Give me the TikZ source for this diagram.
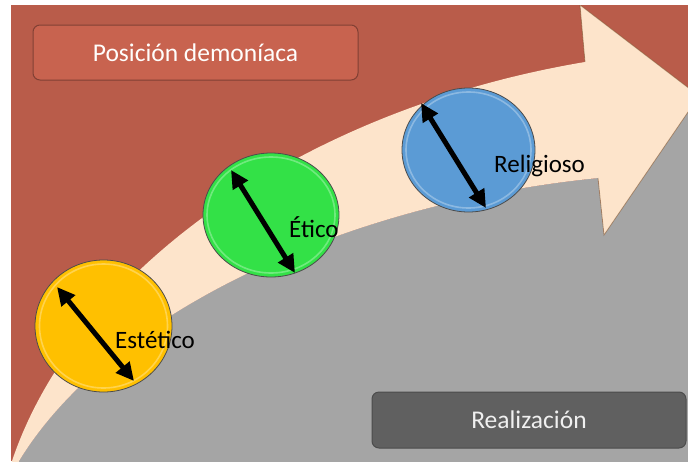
\documentclass[tikz,border=0pt]{standalone}
\usepackage{fontspec}
\setmainfont{Carlito}
\usetikzlibrary{shapes.geometric,arrows.meta}
\definecolor{bgred}{HTML}{B95C4A}
\definecolor{peach}{HTML}{FDE4CB}
\definecolor{bggray}{HTML}{A5A5A5}
\definecolor{cyellow}{HTML}{FFC000}
\definecolor{cgreen}{HTML}{33E147}
\definecolor{cblue}{HTML}{5B9BD5}
\definecolor{boxred}{HTML}{C8634F}
\definecolor{boxgray}{HTML}{606060}
\tikzset{
  stage/.style={ellipse, inner sep=0pt, draw=black!70, line width=0.8pt},
  gloss/.style={draw=white, opacity=0.3, line width=1.6pt},
  dbl/.style={line width=5pt, {Triangle[length=18pt,width=17pt]}-{Triangle[length=18pt,width=17pt]}},
  lbl/.style={font=\fontsize{25}{28}\selectfont, text=black, inner sep=0pt, anchor=base west},
  banner/.style={rounded corners=7pt, inner sep=0pt, line width=1pt, font=\fontsize{25.5}{28}\selectfont}
}
\begin{document}
\begin{tikzpicture}[x=1pt,y=-1pt]
\useasboundingbox (0,0) rectangle (688,461);
\fill[white] (0,0) rectangle (688,461);
\begin{scope}
  \clip (11,5) rectangle (688,461);
  \fill[bgred] (11,5) rectangle (688,461);
  % gray region below the arrow
  \fill[bggray] (16.5,466) -- (19,461) .. controls (107,316) and (339,204) .. (598,178)
     -- (604,235) -- (699,96) -- (720,96) -- (720,470) -- (16.5,470) -- cycle;
  % peach arrow
  \fill[peach] (11,466) -- (12,461) .. controls (77,268) and (305,109) .. (585,62)
     -- (580,5) -- (699,96) -- (604,235) -- (598,178)
     .. controls (339,204) and (107,316) .. (19,461) -- (16.5,466) -- cycle;
  \draw[brown!60!black, opacity=0.5, line width=0.8pt] (585,62) -- (580,5) -- (699,96) -- (604,235) -- (598,178);
\end{scope}
% banners
\node[banner, fill=boxred, draw=bgred!70!black, minimum width=325pt, minimum height=55pt, text=white!95!peach]
  (demo) at (195.5,52.5) {Posición demoníaca};
\node[banner, fill=boxgray, draw=black!70, minimum width=314pt, minimum height=56pt, text=white!94!black]
  (real) at (529,420) {Realización};
% stages
\node[stage, fill=cyellow, minimum width=137pt, minimum height=132pt] (c1) at (103.5,326) {};
\node[stage, fill=cgreen, minimum width=136pt, minimum height=124pt] (c2) at (271,215) {};
\node[stage, fill=cblue, minimum width=133pt, minimum height=124pt] (c3) at (468.5,150) {};
\draw[gloss] (c1.center) ellipse [x radius=64pt, y radius=62pt];
\draw[gloss] (c2.center) ellipse [x radius=64pt, y radius=58pt];
\draw[gloss] (c3.center) ellipse [x radius=62.5pt, y radius=58pt];
% double arrows
\coordinate (a1) at (57,287); \coordinate (b1) at (134,381);
\coordinate (a2) at (231,170); \coordinate (b2) at (295,273);
\coordinate (a3) at (421,103); \coordinate (b3) at (486,208);
\draw[dbl] (a1) -- (b1);
\draw[dbl] (a2) -- (b2);
\draw[dbl] (a3) -- (b3);
% labels
\node[lbl] (l1) at (115,348) {Estético};
\node[lbl] (l2) at (289,237) {Ético};
\node[lbl] (l3) at (494,172) {Religioso};
\end{tikzpicture}
\end{document}
